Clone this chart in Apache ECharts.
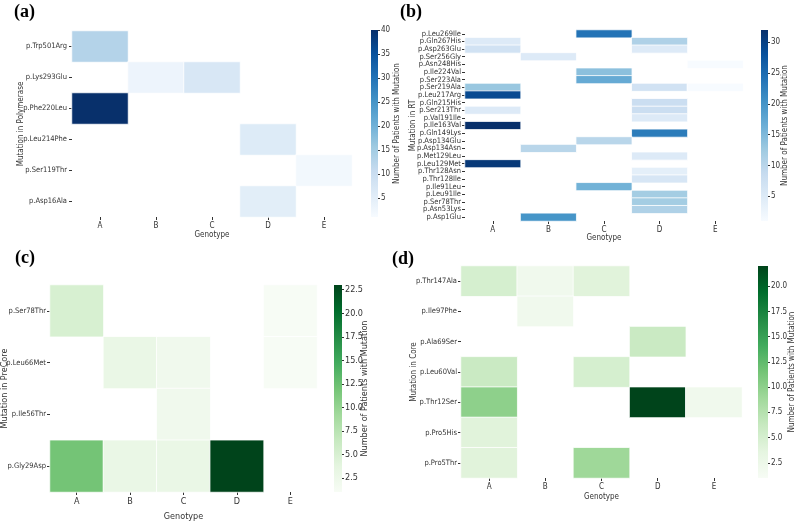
<!DOCTYPE html>
<html>
<head>
<meta charset="utf-8">
<title>Mutations by genotype</title>
<script src="https://cdn.jsdelivr.net/npm/echarts@6/dist/echarts.min.js"></script>
<style>
html,body{margin:0;padding:0;background:#fff;}
#chart{width:795px;height:523px;}
</style>
</head>
<body>
<div id="chart"></div>
<script>
//genotypes on the x axis
var genotypes = ['A', 'B', 'C', 'D', 'E'];

//(a) polymerase
var polRows = ['p.Trp501Arg', 'p.Lys293Glu', 'p.Phe220Leu', 'p.Leu214Phe', 'p.Ser119Thr', 'p.Asp16Ala'];
var polValues = [
    [13, null, null, null, null],
    [null, 3, 7, null, null],
    [40, null, null, null, null],
    [null, null, null, 6, null],
    [null, null, null, null, 2],
    [null, null, null, 5, null]
];
var polTicks = [5, 10, 15, 20, 25, 30, 35, 40];

//(b) RT
var rtRows = ['p.Leu269Ile', 'p.Gln267His', 'p.Asp263Glu', 'p.Ser256Gly', 'p.Asn248His', 'p.Ile224Val',
    'p.Ser223Ala', 'p.Ser219Ala', 'p.Leu217Arg', 'p.Gln215His', 'p.Ser213Thr', 'p.Val191Ile',
    'p.Ile163Val', 'p.Gln149Lys', 'p.Asp134Glu', 'p.Asp134Asn', 'p.Met129Leu', 'p.Leu129Met',
    'p.Thr128Asn', 'p.Thr128Ile', 'p.Ile91Leu', 'p.Leu91Ile', 'p.Ser78Thr', 'p.Asn53Lys', 'p.Asp1Glu'];
var rtValues = [
    [null, null, 24, null, null],
    [5, null, null, 11, null],
    [7, null, null, 5, null],
    [null, 5, null, null, null],
    [null, null, null, null, 1],
    [null, null, 14, null, null],
    [null, null, 17, null, null],
    [13, null, null, 7, 1],
    [29, null, null, null, null],
    [null, null, null, 8, null],
    [5, null, null, 8, null],
    [null, null, null, 5, null],
    [32, null, null, null, null],
    [null, null, null, 23, null],
    [null, null, 10, null, null],
    [null, 10, null, null, null],
    [null, null, null, 5, null],
    [31, null, null, null, null],
    [null, null, null, 4, null],
    [null, null, null, 6, null],
    [null, null, 16, null, null],
    [null, null, null, 12, null],
    [null, null, null, 12, null],
    [null, null, null, 11, null],
    [null, 20, null, null, null]
];
var rtTicks = [5, 10, 15, 20, 25, 30];

//(c) precore
var preRows = ['p.Ser78Thr', 'p.Leu66Met', 'p.Ile56Thr', 'p.Gly29Asp'];
var preValues = [
    [5, null, null, null, 1],
    [null, 3, 2, null, 1],
    [null, null, 2, null, null],
    [12, 3, 3, 23, null]
];
var preTicks = [2.5, 5, 7.5, 10, 12.5, 15, 17.5, 20, 22.5];

//(d) core
var coreRows = ['p.Thr147Ala', 'p.Ile97Phe', 'p.Ala69Ser', 'p.Leu60Val', 'p.Thr12Ser', 'p.Pro5His', 'p.Pro5Thr'];
var coreValues = [
    [5, 2, 4, null, null],
    [null, 2, null, null, null],
    [null, null, null, 6, null],
    [6, null, 5, null, null],
    [10, null, null, 22, 2],
    [4, null, null, null, null],
    [4, null, 9, null, null]
];
var coreTicks = [2.5, 5, 7.5, 10, 12.5, 15, 17.5, 20];

//colormaps
var blues = ['#f7fbff', '#deebf7', '#c6dbef', '#9ecae1', '#6baed6', '#4292c6', '#2171b5', '#08519c', '#08306b'];
var greens = ['#f7fcf5', '#e5f5e0', '#c7e9c0', '#a1d99b', '#74c476', '#41ab5d', '#238b45', '#006d2c', '#00441b'];

var chart = echarts.init(document.getElementById('chart'));
var font = '"DejaVu Sans Condensed", "DejaVu Sans", sans-serif';
var txt = '#333';

var option = {
    animation: false,
    title: [],
    grid: [],
    xAxis: [],
    yAxis: [],
    visualMap: [],
    series: []
};

//matrix -> [x, y, value]
function toCells(values) {
    var cells = [];
    for (var i = 0; i < values.length; i++) {
        for (var j = 0; j < values[i].length; j++) {
            if (values[i][j] != null) cells.push([j, i, values[i][j]]);
        }
    }
    return cells;
}

function gradient(cmap) {
    var stops = [];
    for (var i = 0; i < cmap.length; i++) {
        stops.push({offset: i / (cmap.length - 1), color: cmap[cmap.length - 1 - i]});
    }
    return new echarts.graphic.LinearGradient(0, 0, 0, 1, stops);
}

//one panel: heatmap + colorbar
function addPanel(p) {
    var g = option.grid.length;
    var ts = {fontFamily: font, fontSize: p.fs, color: txt};
    option.title.push({
        text: p.tag, left: p.tagPos[0], top: p.tagPos[1], padding: 0,
        textStyle: {fontFamily: 'Liberation Serif', fontWeight: 'bold', fontSize: 18, color: '#000'}
    });
    option.grid.push({left: p.box[0], top: p.box[1], width: p.box[2], height: p.box[3], outerBoundsMode: 'none'});
    option.grid.push({left: p.cb[0], top: p.cb[1], width: p.cb[2], height: p.cb[3], outerBoundsMode: 'none'});

    option.xAxis.push({
        type: 'category', gridIndex: g, data: genotypes,
        axisLine: {show: false}, splitLine: {show: false},
        axisTick: {show: true, alignWithLabel: true, length: 3, lineStyle: {color: txt}},
        axisLabel: {fontFamily: font, fontSize: p.fs, color: txt, margin: 5},
        name: 'Genotype', nameLocation: 'middle', nameGap: p.xGap, nameMoveOverlap: false,
        nameTextStyle: ts
    });
    option.xAxis.push({type: 'category', gridIndex: g + 1, data: [''], show: false});

    option.yAxis.push({
        type: 'category', gridIndex: g, data: p.rows, inverse: true,
        axisLine: {show: false}, splitLine: {show: false},
        axisTick: {show: true, alignWithLabel: true, length: 3, lineStyle: {color: txt}},
        axisLabel: {interval: 0, fontFamily: font, fontSize: p.labelSize, color: txt, margin: p.labelMargin},
        name: p.yName, nameLocation: 'middle', nameGap: p.yGap, nameRotate: 90, nameMoveOverlap: false,
        nameTextStyle: ts
    });
    option.yAxis.push({
        type: 'value', gridIndex: g + 1, position: 'right', min: p.min, max: p.max,
        axisLine: {show: false}, splitLine: {show: false},
        axisTick: {show: true, length: 2, customValues: p.ticks, lineStyle: {color: txt}},
        axisLabel: {
            customValues: p.ticks, fontFamily: font, fontSize: p.fs, color: txt, margin: 3,
            formatter: function (v) { return p.decimals ? v.toFixed(1) : String(v); }
        },
        name: 'Number of Patients with Mutation', nameLocation: 'middle', nameGap: p.cbGap,
        nameRotate: 90, nameMoveOverlap: false,
        nameTextStyle: ts
    });

    var s = option.series.length;
    option.series.push({
        type: 'heatmap', xAxisIndex: g, yAxisIndex: g, data: toCells(p.values),
        itemStyle: {borderColor: '#fff', borderWidth: 0.8},
        emphasis: {disabled: true}, silent: true
    });
    option.series.push({
        type: 'bar', xAxisIndex: g + 1, yAxisIndex: g + 1, data: [p.max],
        barWidth: '100%', silent: true, clip: true,
        itemStyle: {color: gradient(p.cmap)}
    });
    option.visualMap.push({
        type: 'continuous', show: false, seriesIndex: s, dimension: 2,
        min: p.min, max: p.max, inRange: {color: p.cmap}
    });
}

addPanel({tag: '(a)', tagPos: [14, 3], rows: polRows, values: polValues, cmap: blues,
    min: 1, max: 40, ticks: polTicks, decimals: false,
    box: [72, 31, 280, 186], cb: [371, 30, 7, 187],
    yName: 'Mutation in Polymerase', yGap: 47, xGap: 14, cbGap: 15,
    labelSize: 7.5, labelMargin: 5, fs: 8});
addPanel({tag: '(b)', tagPos: [400, 3], rows: rtRows, values: rtValues, cmap: blues,
    min: 1, max: 32, ticks: rtTicks, decimals: false,
    box: [465, 30, 278, 191], cb: [761, 30, 7, 191],
    yName: 'Mutation in RT', yGap: 48, xGap: 13, cbGap: 13,
    labelSize: 7.5, labelMargin: 4, fs: 8});
addPanel({tag: '(c)', tagPos: [15, 249], rows: preRows, values: preValues, cmap: greens,
    min: 1, max: 23, ticks: preTicks, decimals: true,
    box: [50, 285, 267, 207], cb: [334, 285, 8, 207],
    yName: 'Mutation in PreCore', yGap: 41, xGap: 20, cbGap: 18,
    labelSize: 7.5, labelMargin: 4, fs: 9});
addPanel({tag: '(d)', tagPos: [392, 250], rows: coreRows, values: coreValues, cmap: greens,
    min: 1, max: 22, ticks: coreTicks, decimals: true,
    box: [461, 266, 281, 212], cb: [758, 266, 10, 212],
    yName: 'Mutation in Core', yGap: 43, xGap: 15, cbGap: 20,
    labelSize: 7.5, labelMargin: 4, fs: 8});

chart.setOption(option);
</script>
</body>
</html>
